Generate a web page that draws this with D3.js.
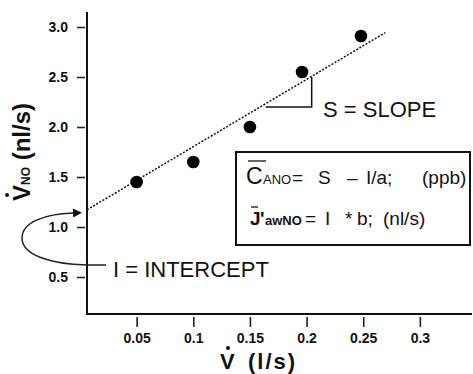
<!DOCTYPE html>
<html>
<head>
<meta charset="utf-8">
<script src="https://cdn.jsdelivr.net/npm/d3@7"></script>
<style>
  body { margin: 0; background: #fff; }
  svg { display: block; font-family: "Liberation Sans", Arial, sans-serif; }
</style>
</head>
<body>
<div id="canvas"></div>
<script>
// data
var flow = [0.05, 0.1, 0.15, 0.196, 0.248];      // V (l/s)
var vno = [1.45, 1.65, 2.0, 2.55, 2.91];         // VNO (nl/s)
var xTicks = [0.05, 0.1, 0.15, 0.2, 0.25, 0.3];
var yTicks = [0.5, 1.0, 1.5, 2.0, 2.5, 3.0];
var fitX = [0.0062, 0.2695];                      // dotted fit line ends
var fitY = [1.172, 2.944];
var slopeX = [0.164, 0.2045, 0.2045];             // slope triangle
var slopeY = [2.2, 2.2, 2.5];

var w = 473, h = 374;
var svg = d3.select("#canvas").append("svg").attr("width", w).attr("height", h);

var x = d3.scaleLinear().domain([0.0062, 0.346]).range([87, 472]);
var y = d3.scaleLinear().domain([0.12, 3.15]).range([315, 12]);

// axes lines
svg.append("line").attr("x1", 87).attr("x2", 87).attr("y1", y(3.15)).attr("y2", 315)
    .attr("stroke", "#111").attr("stroke-width", 2);
svg.append("line").attr("x1", 86).attr("x2", 472).attr("y1", 314).attr("y2", 314)
    .attr("stroke", "#111").attr("stroke-width", 2);

var xAxis = svg.append("g").attr("transform", "translate(0,317)")
    .call(d3.axisBottom(x).tickValues(xTicks).tickSize(10).tickPadding(6)
      .tickFormat(function(d) { return d3.format("")(+d.toFixed(2)); }));
var yAxis = svg.append("g").attr("transform", "translate(85,0)")
    .call(d3.axisLeft(y).tickValues(yTicks).tickSize(8).tickPadding(9).tickFormat(d3.format(".1f")));

[xAxis, yAxis].forEach(function(g) {
  g.select(".domain").remove();
  g.selectAll(".tick line").attr("stroke", "#222").attr("stroke-width", 1.6);
  g.selectAll(".tick text").attr("fill", "#111").style("font-size", "14px").style("font-weight", "bold")
    .style("font-family", "'Liberation Sans', Arial, sans-serif");
});

// axis titles
var yt = svg.append("text").attr("transform", "translate(30,152) rotate(-90)")
    .attr("text-anchor", "middle").attr("fill", "#111").style("font-weight", "bold");
yt.append("tspan").style("font-size", "24px").text("V");
yt.append("tspan").style("font-size", "12px").text("NO");
yt.append("tspan").style("font-size", "24px").text(" (nl/s)");
svg.append("circle").attr("cx", 7).attr("cy", 195).attr("r", 2).attr("fill", "#111");

var xt = svg.append("text").attr("x", 220).attr("y", 369).attr("fill", "#111")
    .style("font-weight", "bold").style("font-size", "22px");
xt.append("tspan").text("V");
xt.append("tspan").attr("x", 248).style("letter-spacing", "2px").text("(l/s)");
svg.append("circle").attr("cx", 228).attr("cy", 348).attr("r", 2).attr("fill", "#111");

// fit line
svg.append("path").datum(d3.zip(fitX, fitY))
    .attr("d", d3.line().x(function(d) { return x(d[0]); }).y(function(d) { return y(d[1]); }))
    .attr("fill", "none").attr("stroke", "#111").attr("stroke-width", 1.5).attr("stroke-dasharray", "2,1.6");

// slope triangle
svg.append("path").datum(d3.zip(slopeX, slopeY))
    .attr("d", d3.line().x(function(d) { return x(d[0]); }).y(function(d) { return y(d[1]); }))
    .attr("fill", "none").attr("stroke", "#111").attr("stroke-width", 1.5);

// points
svg.selectAll("circle.pt").data(d3.zip(flow, vno)).enter().append("circle")
    .attr("class", "pt")
    .attr("cx", function(d) { return x(d[0]); })
    .attr("cy", function(d) { return y(d[1]); })
    .attr("r", 6.3).attr("fill", "#000");

// annotations
svg.append("text").attr("x", 323).attr("y", 117).style("font-size", "22px").attr("fill", "#111").text("S = SLOPE");
svg.append("text").attr("x", 113).attr("y", 277).style("font-size", "22px").attr("fill", "#111").text("I = INTERCEPT");

svg.append("defs").append("marker").attr("id", "arr")
    .attr("viewBox", "0 0 10 10").attr("refX", 0).attr("refY", 5)
    .attr("markerWidth", 10).attr("markerHeight", 9).attr("markerUnits", "userSpaceOnUse")
    .attr("orient", "auto")
  .append("path").attr("d", "M0,0 L10,5 L0,10 Z").attr("fill", "#111");
svg.append("path")
    .attr("d", "M106,265 L87,265 C50,264 22,255 22,238 C22,222 45,214 73,213")
    .attr("fill", "none").attr("stroke", "#222").attr("stroke-width", 1.5)
    .attr("marker-end", "url(#arr)");

// formula box
svg.append("rect").attr("x", 236).attr("y", 152).attr("width", 234).attr("height", 93)
    .attr("fill", "#fff").attr("stroke", "#111").attr("stroke-width", 2);

var l1 = svg.append("text").attr("y", 184).attr("fill", "#111");
l1.append("tspan").attr("x", 246).style("font-size", "23px").text("C");
l1.append("tspan").attr("x", 263).style("font-size", "13px").text("ANO");
l1.append("tspan").attr("x", 292).style("font-size", "19px").text("=");
l1.append("tspan").attr("x", 318).style("font-size", "19px").text("S");
l1.append("tspan").attr("x", 347).style("font-size", "19px").text("\u2013");
l1.append("tspan").attr("x", 366).style("font-size", "19px").text("I/a;");
l1.append("tspan").attr("x", 422).style("font-size", "19px").text("(ppb)");
svg.append("line").attr("x1", 248).attr("x2", 266).attr("y1", 161).attr("y2", 161)
    .attr("stroke", "#333").attr("stroke-width", 1.5);

var l2 = svg.append("text").attr("y", 225).attr("fill", "#111");
l2.append("tspan").attr("x", 250).style("font-size", "19px").style("font-weight", "bold").text("J");
l2.append("tspan").attr("x", 260).style("font-size", "19px").style("font-weight", "bold").text("'");
l2.append("tspan").attr("x", 265).style("font-size", "13px").style("font-weight", "bold").text("awNO");
l2.append("tspan").attr("x", 305).style("font-size", "19px").text("=");
l2.append("tspan").attr("x", 325).style("font-size", "19px").text("I");
l2.append("tspan").attr("x", 345).style("font-size", "19px").text("*");
l2.append("tspan").attr("x", 357).style("font-size", "19px").text("b;");
l2.append("tspan").attr("x", 383).style("font-size", "19px").text("(nl/s)");
svg.append("line").attr("x1", 251).attr("x2", 258).attr("y1", 207).attr("y2", 207)
    .attr("stroke", "#333").attr("stroke-width", 1.5);
</script>
</body>
</html>
